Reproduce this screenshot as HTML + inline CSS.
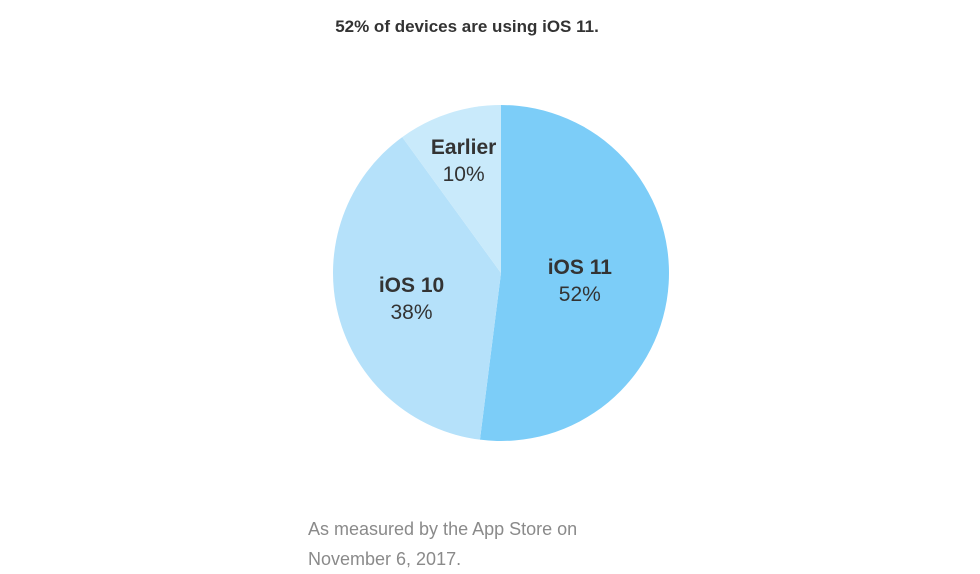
<!DOCTYPE html>
<html><head><meta charset="utf-8"><style>
html,body{margin:0;padding:0;background:#fff;}
body{width:980px;height:570px;position:relative;overflow:hidden;font-family:"Liberation Sans",sans-serif;}
#title{position:absolute;left:0;width:934px;top:17px;text-align:center;font-size:17px;font-weight:bold;color:#333;}
#foot{position:absolute;left:308px;top:514px;font-size:18px;line-height:30px;color:#8a8a8a;}
svg{position:absolute;left:0;top:0;}
</style></head><body>
<div id="title">52% of devices are using iOS 11.</div>
<svg id="chart" width="980" height="570"></svg>
<div id="foot">As measured by the App Store on<br>November 6, 2017.</div>
<script>
const categories=["iOS 11","iOS 10","Earlier"];
const values=[52,38,10];
const colors=["#7ccdf8","#b5e1fa","#c9eafb"];
const cx=501,cy=273,r=168;
const svg=document.getElementById('chart');
const NS="http://www.w3.org/2000/svg";
const total=values.reduce((a,b)=>a+b,0);
function pt(a,rad){return [cx+rad*Math.sin(a),cy-rad*Math.cos(a)];}
let acc=0;
const labelPos=[[0.5,0.5],[0.45,0.5],[0.55,0.5]];
values.forEach((v,i)=>{
  const a0=acc/total*2*Math.PI;acc+=v;const a1=acc/total*2*Math.PI;
  const p0=pt(a0,r),p1=pt(a1,r);
  const path=document.createElementNS(NS,'path');
  path.setAttribute('d',`M${cx},${cy}L${p0[0]},${p0[1]}A${r},${r} 0 ${a1-a0>Math.PI?1:0} 1 ${p1[0]},${p1[1]}Z`);
  path.setAttribute('fill',colors[i]);
  
  
  svg.appendChild(path);
});
acc=0;
const lr=[0.47,0.55,0.72];
values.forEach((v,i)=>{
  const a0=acc/total*2*Math.PI;acc+=v;const a1=acc/total*2*Math.PI;
  const m=(a0+a1)/2;const p=pt(m,r*lr[i]);
  const t1=document.createElementNS(NS,'text');
  t1.setAttribute('x',p[0]);t1.setAttribute('y',p[1]-4);
  t1.setAttribute('text-anchor','middle');t1.setAttribute('font-size','21');
  t1.setAttribute('font-weight','bold');t1.setAttribute('fill','#333');
  t1.setAttribute('font-family','Liberation Sans, sans-serif');
  t1.textContent=categories[i];
  
  
  svg.appendChild(t1);
  const t2=document.createElementNS(NS,'text');
  t2.setAttribute('x',p[0]);t2.setAttribute('y',p[1]+23);
  t2.setAttribute('text-anchor','middle');t2.setAttribute('font-size','21');
  t2.setAttribute('fill','#333');
  t2.setAttribute('font-family','Liberation Sans, sans-serif');
  t2.textContent=v+'%';
  
  
  svg.appendChild(t2);
});
</script>
</body></html>
